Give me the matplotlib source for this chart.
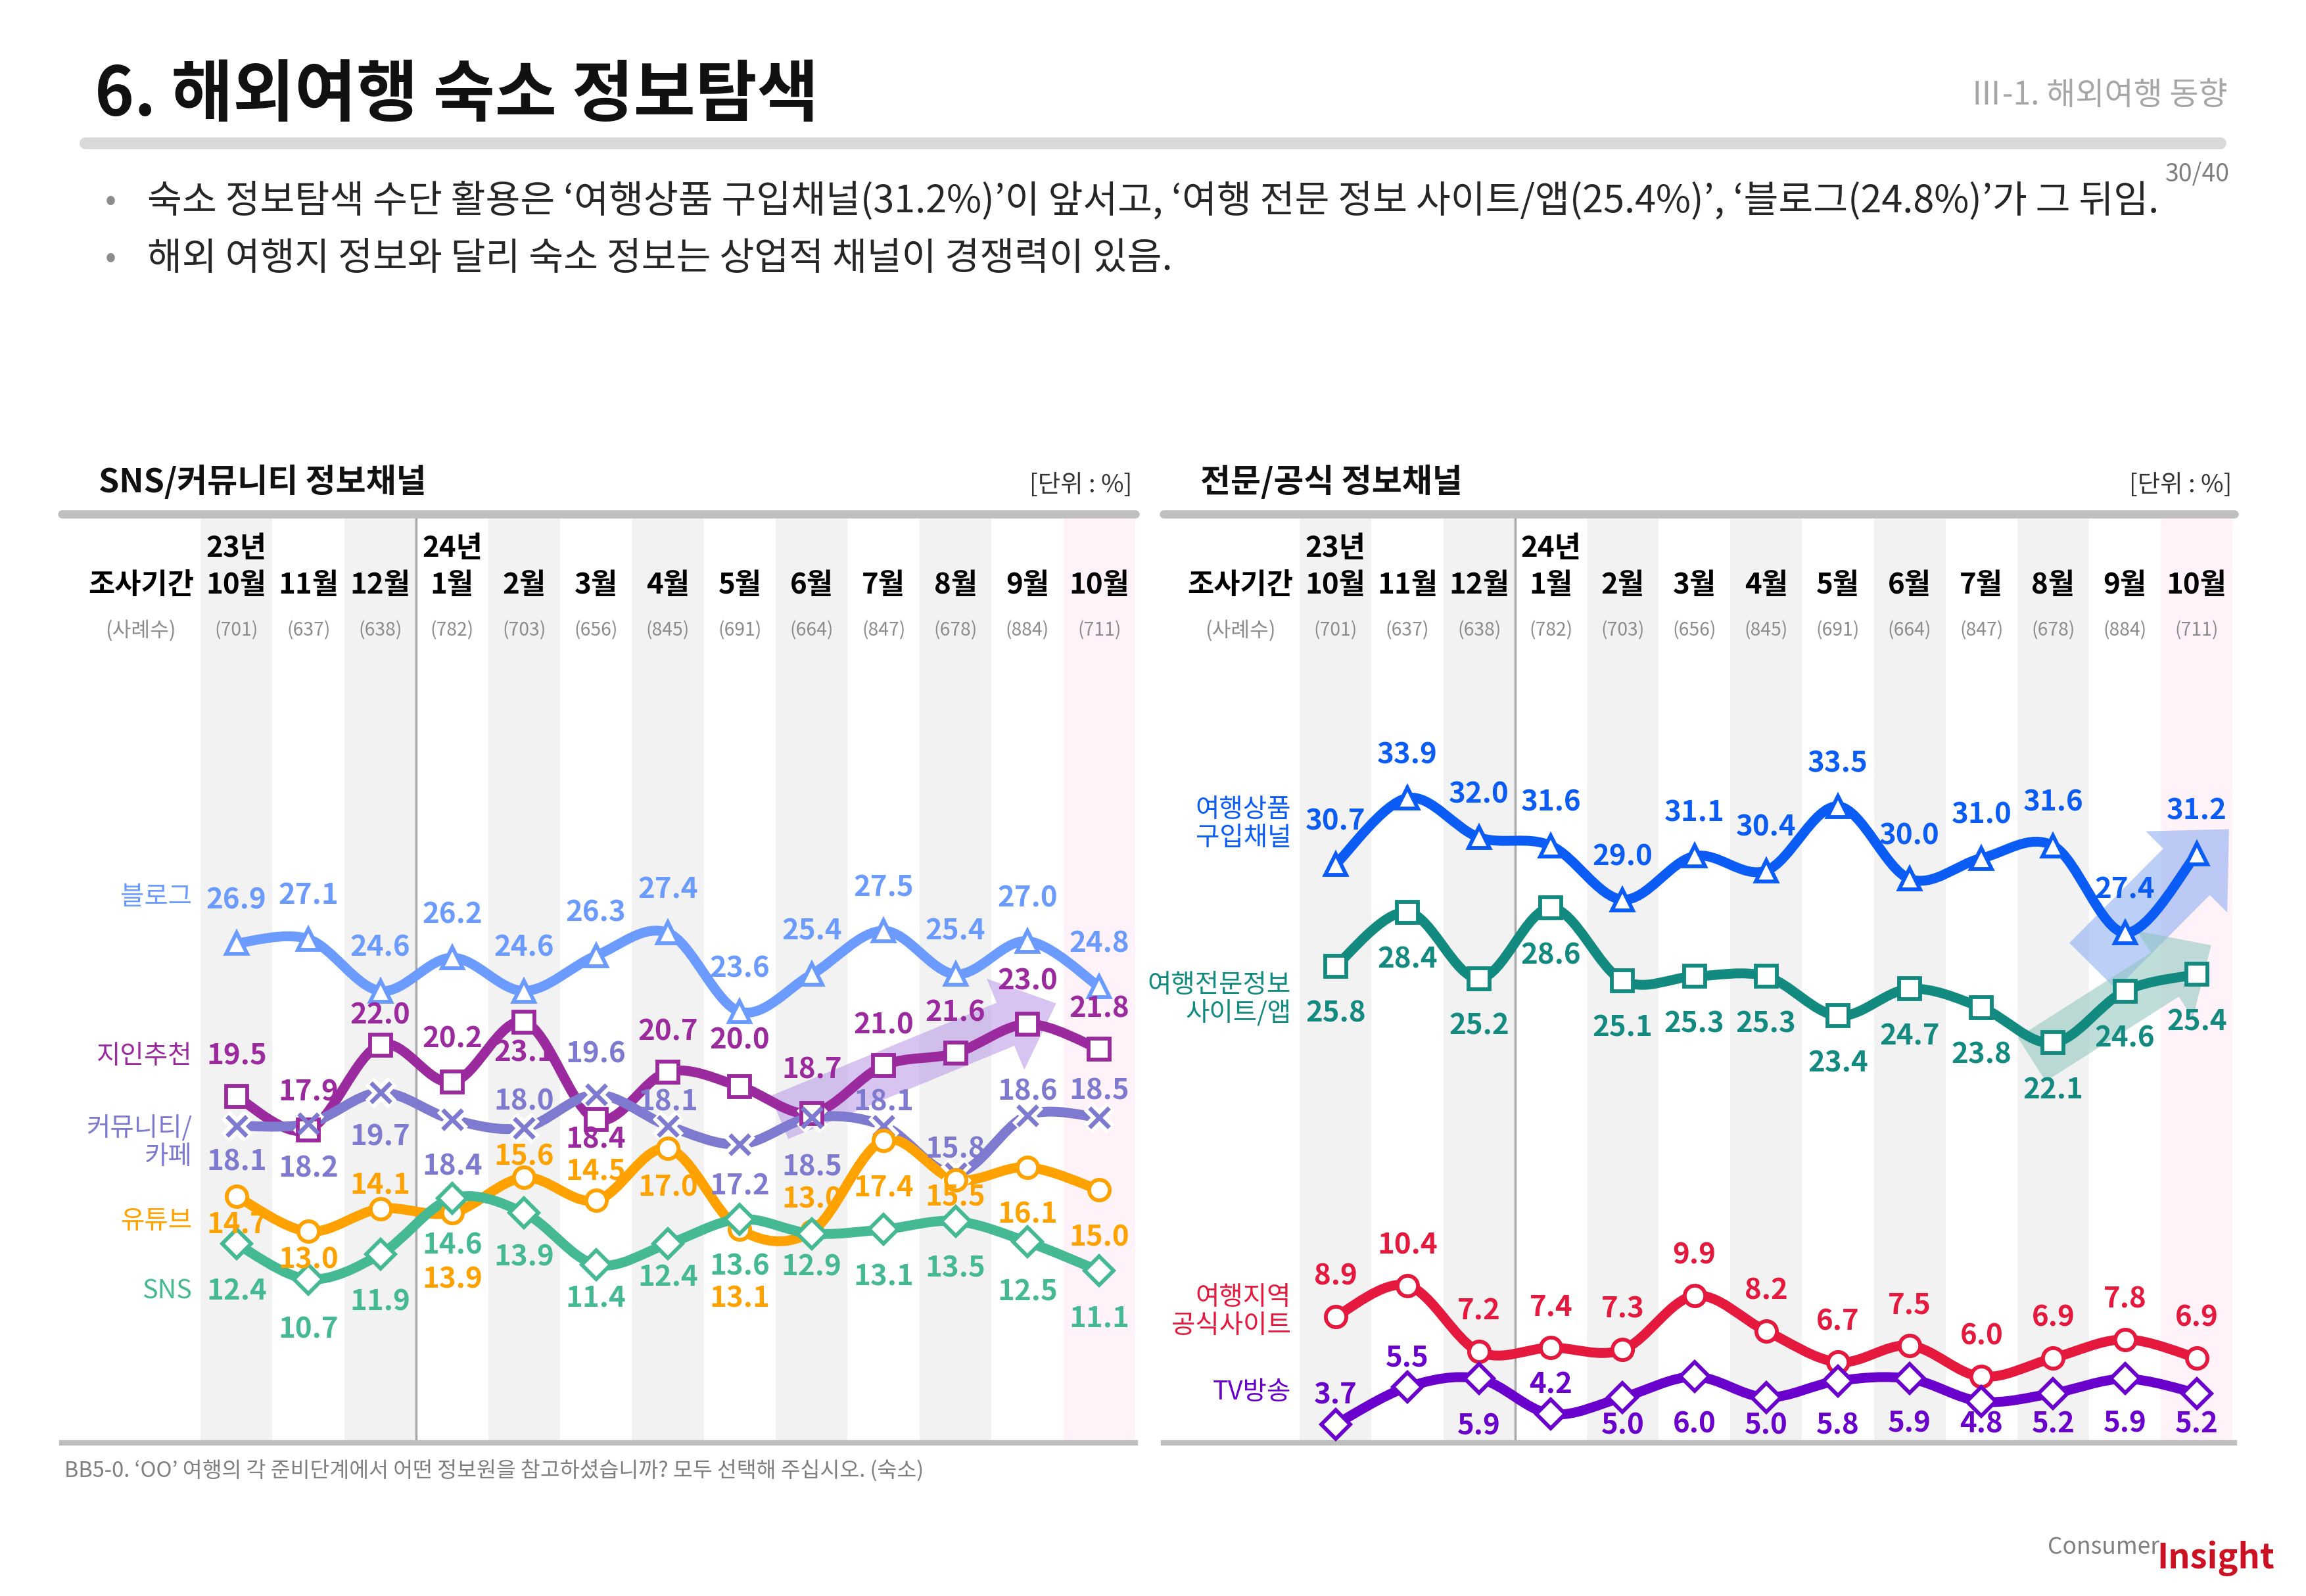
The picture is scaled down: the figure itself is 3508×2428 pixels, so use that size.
import numpy as np
import matplotlib
matplotlib.use('Agg')
import matplotlib.pyplot as plt
from matplotlib.path import Path
from matplotlib.patches import PathPatch
from matplotlib.lines import Line2D

plt.rcParams['font.family'] = ['Noto Sans CJK KR', 'DejaVu Sans']

# ---------------- data ----------------
months = ['10월', '11월', '12월', '1월', '2월', '3월', '4월', '5월', '6월', '7월', '8월', '9월', '10월']
years = ['23년', '', '', '24년', '', '', '', '', '', '', '', '', '']
samples = [701, 637, 638, 782, 703, 656, 845, 691, 664, 847, 678, 884, 711]

# SNS / community channels
blog = [26.9, 27.1, 24.6, 26.2, 24.6, 26.3, 27.4, 23.6, 25.4, 27.5, 25.4, 27.0, 24.8]
friend = [19.5, 17.9, 22.0, 20.2, 23.1, 18.4, 20.7, 20.0, 18.7, 21.0, 21.6, 23.0, 21.8]
community = [18.1, 18.2, 19.7, 18.4, 18.0, 19.6, 18.1, 17.2, 18.5, 18.1, 15.8, 18.6, 18.5]
youtube = [14.7, 13.0, 14.1, 13.9, 15.6, 14.5, 17.0, 13.1, 13.0, 17.4, 15.5, 16.1, 15.0]
sns = [12.4, 10.7, 11.9, 14.6, 13.9, 11.4, 12.4, 13.6, 12.9, 13.1, 13.5, 12.5, 11.1]

# expert / official channels
product = [30.7, 33.9, 32.0, 31.6, 29.0, 31.1, 30.4, 33.5, 30.0, 31.0, 31.6, 27.4, 31.2]
expert = [25.8, 28.4, 25.2, 28.6, 25.1, 25.3, 25.3, 23.4, 24.7, 23.8, 22.1, 24.6, 25.4]
official = [8.9, 10.4, 7.2, 7.4, 7.3, 9.9, 8.2, 6.7, 7.5, 6.0, 6.9, 7.8, 6.9]
tv = [3.7, 5.5, 5.9, 4.2, 5.0, 6.0, 5.0, 5.8, 5.9, 4.8, 5.2, 5.9, 5.2]

# label offsets in points (positive = above marker)
off_blog = [16] * 13
off_friend = [15, 14, 11, 16, -11, -7, 15, 17, 16, 15, 15, 16, 15]
off_comm = [-13, -16, -16, -17, 10, 15, 9, -15, -18, 9, 9, 9, 10]
off_yt = [-10, -10, 9, -24, 8, 11, -14, -25, 12, -17, -6, -17, -17]
off_sns = [-17, -18, -17, -17, -16, -12, -12, -17, -12, -17, -17, -18, -17]
off_product = [16] * 13
off_expert = [-17] * 13
off_official = [15] * 13
off_tv = [11, 11, -17, 11, -10, -17, -10, -16, -16, -8, -11, -16, -11]

GRAY_BAND = '#f2f2f2'
PINK_BAND = '#fff3f9'


def smooth_path(xs, ys):
    pts = np.column_stack([xs, ys]).astype(float)
    n = len(pts)
    verts = [pts[0]]
    codes = [Path.MOVETO]
    for i in range(n - 1):
        p0 = pts[i - 1] if i > 0 else pts[i]
        p1, p2 = pts[i], pts[i + 1]
        p3 = pts[i + 2] if i + 2 < n else pts[i + 1]
        verts += [p1 + (p2 - p0) / 6, p2 - (p3 - p1) / 6, p2]
        codes += [Path.CURVE4] * 3
    return Path(verts, codes)


def setup_panel(ax, xlim):
    x = np.arange(len(months))
    ax.set_xlim(*xlim)
    ax.set_ylim(2.8, 47.6)
    for i in x:
        if i == len(months) - 1:
            ax.axvspan(i - 0.5, i + 0.5, color=PINK_BAND, lw=0, zorder=0)
        elif i % 2 == 0:
            ax.axvspan(i - 0.5, i + 0.5, color=GRAY_BAND, lw=0, zorder=0)
    ax.axvline(2.5, color='#a6a6a6', lw=0.8, zorder=1)
    for s in ['left', 'right']:
        ax.spines[s].set_visible(False)
    ax.spines['top'].set_color('#bfbfbf')
    ax.spines['top'].set_linewidth(3)
    ax.spines['top'].set_capstyle('round')
    ax.spines['bottom'].set_color('#bfbfbf')
    ax.spines['bottom'].set_linewidth(2)
    ax.set_xticks([])
    ax.set_yticks([])
    tr = ax.get_xaxis_transform()
    for i in x:
        if years[i]:
            ax.text(i, 0.9636, years[i], transform=tr, ha='center', va='center',
                    fontsize=10.5, fontweight='bold', color='black')
        ax.text(i, 0.924, months[i], transform=tr, ha='center', va='center',
                fontsize=10.5, fontweight='bold', color='black')
        ax.text(i, 0.875, f'({samples[i]})', transform=tr, ha='center', va='center',
                fontsize=6.8, color='#8c8c8c')
    ax.text(-1.33, 0.924, '조사기간', transform=tr, ha='center', va='center',
            fontsize=10.5, fontweight='bold', color='black')
    ax.text(-1.33, 0.875, '(사례수)', transform=tr, ha='center', va='center',
            fontsize=7.5, color='#8c8c8c')


def draw_series(ax, name, vals, color, marker, offs, name_off):
    x = np.arange(len(vals))
    ax.add_patch(PathPatch(smooth_path(x, vals), facecolor='none', edgecolor=color,
                           lw=3.6, capstyle='round', joinstyle='round', zorder=3))
    if marker == 'x':
        ax.plot(x, vals, ls='none', marker='x', ms=8, mew=4.5, color='white', zorder=4)
        ax.plot(x, vals, ls='none', marker='x', ms=7, mew=1.6, color=color, zorder=5)
    else:
        ax.plot(x, vals, ls='none', marker=marker, ms=7.5, mew=1.4, mfc='white',
                mec=color, zorder=5)
    for i, v in enumerate(vals):
        ax.annotate(f'{v:.1f}', (i, v), xytext=(0, offs[i]), textcoords='offset points',
                    ha='center', va='center', fontsize=10.5, fontweight='bold',
                    color=color, zorder=6)
    ax.annotate(name, (-0.62, vals[0]), xytext=(0, name_off), textcoords='offset points',
                ha='right', va='center', fontsize=9.5, color=color, linespacing=1.1,
                annotation_clip=False, zorder=6)


def trend_arrow(ax, start, end, color, tail, head_w, head_l):
    ax.annotate('', xy=end, xytext=start,
                arrowprops=dict(arrowstyle=f'simple,tail_width={tail},head_width={head_w},head_length={head_l}',
                                color=color, alpha=0.55, lw=0, shrinkA=0, shrinkB=0,
                                mutation_scale=10),
                zorder=2)


fig = plt.figure(figsize=(3508 / 300, 2429 / 300), dpi=300)

# ---------------- header ----------------
fig.text(0.041, 0.940, '6. 해외여행 숙소 정보탐색', fontsize=24.5, fontweight='heavy',
         ha='left', va='center', color='#111111')
fig.text(0.966, 0.940, 'Ⅲ-1. 해외여행 동향', fontsize=11.5, ha='right', va='center',
         color='#a6a6a6')
fig.add_artist(Line2D([0.037, 0.963], [0.9098, 0.9098], lw=4.3, color='#d9d9d9',
                      solid_capstyle='round'))
fig.text(0.953, 0.891, '30/40', fontsize=9, ha='center', va='center', color='#7f7f7f')
bullets = ['숙소 정보탐색 수단 활용은 ‘여행상품 구입채널(31.2%)’이 앞서고, ‘여행 전문 정보 사이트/앱(25.4%)’, ‘블로그(24.8%)’가 그 뒤임.',
           '해외 여행지 정보와 달리 숙소 정보는 상업적 채널이 경쟁력이 있음.']
for yy, line in zip([0.874, 0.838], bullets):
    fig.text(0.048, yy, '•', fontsize=12, ha='center', va='center', color='#8c8c8c')
    fig.text(0.0638, yy, line, fontsize=13.8, ha='left', va='center', color='#262626')

# ---------------- left panel ----------------
axL = fig.add_axes([0.0268, 0.0958, 0.4655, 0.5819])
setup_panel(axL, (-2.43, 12.5))
trend_arrow(axL, (8 - 0.45, friend[8] - 0.2), (11 + 0.4, friend[11] + 1.0),
            '#b795e6', 1.7, 3.6, 2.0)
draw_series(axL, '블로그', blog, '#6b9bff', '^', off_blog, 17)
draw_series(axL, '지인추천', friend, '#9b2a9e', 's', off_friend, 15)
draw_series(axL, '커뮤니티/\n카페', community, '#7d7ad0', 'x', off_comm, -6)
draw_series(axL, '유튜브', youtube, '#ffa200', 'o', off_yt, -9)
draw_series(axL, 'SNS', sns, '#45b994', 'D', off_sns, -17)
fig.text(0.0427, 0.698, 'SNS/커뮤니티 정보채널', fontsize=12, fontweight='bold',
         ha='left', va='center', color='#111111')
fig.text(0.491, 0.696, '[단위 : %]', fontsize=9, ha='right', va='center', color='#333333')

# ---------------- right panel ----------------
axR = fig.add_axes([0.5045, 0.0958, 0.4643, 0.5819])
setup_panel(axR, (-2.40, 12.52))
trend_arrow(axR, (11 - 0.45, product[11] - 1.6), (12 + 0.45, product[12] + 1.2),
            '#86a8f2', 2.4, 4.2, 2.2)
trend_arrow(axR, (10 - 0.3, expert[10] - 0.8), (12 + 0.2, expert[12] + 1.4),
            '#8cc4bd', 1.9, 3.8, 2.0)
draw_series(axR, '여행상품\n구입채널', product, '#0a5cf5', '^', off_product, 15)
draw_series(axR, '여행전문정보\n사이트/앱', expert, '#138a80', 's', off_expert, -12)
draw_series(axR, '여행지역\n공식사이트', official, '#e5193d', 'o', off_official, 2)
draw_series(axR, 'TV방송', tv, '#6a00cc', 'D', off_tv, 12)
fig.text(0.5205, 0.698, '전문/공식 정보채널', fontsize=12, fontweight='bold',
         ha='left', va='center', color='#111111')
fig.text(0.968, 0.696, '[단위 : %]', fontsize=9, ha='right', va='center', color='#333333')

# ---------------- footer ----------------
fig.text(0.028, 0.0792, 'BB5-0. ‘OO’ 여행의 각 준비단계에서 어떤 정보원을 참고하셨습니까? 모두 선택해 주십시오. (숙소)',
         fontsize=7.8, ha='left', va='center', color='#7f7f7f')
fig.text(0.9365, 0.031, 'Consumer', fontsize=8.5, ha='right', va='center', color='#808080')
fig.text(0.9355, 0.024, 'Insight', fontsize=12.5, fontweight='bold', ha='left', va='center',
         color='#cc1122')

fig.savefig('out.png', dpi=300)
